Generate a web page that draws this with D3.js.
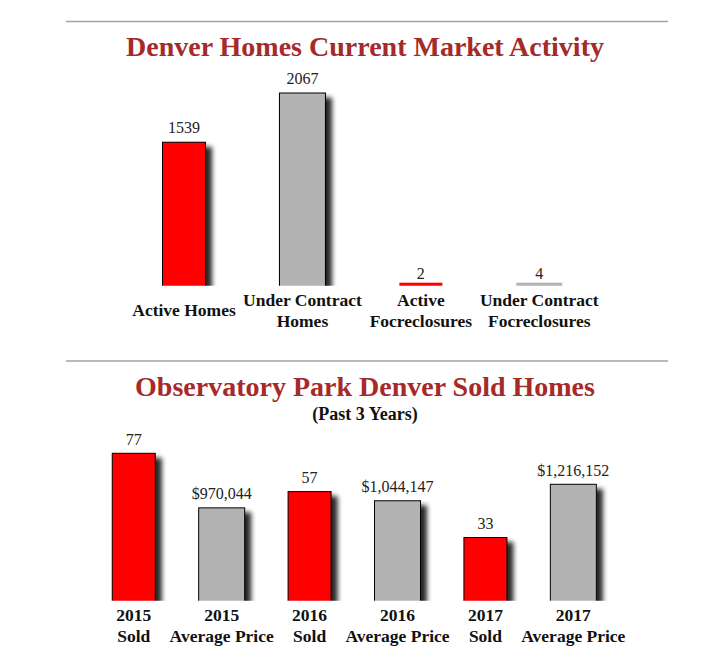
<!DOCTYPE html>
<html>
<head>
<meta charset="utf-8">
<script src="https://cdn.jsdelivr.net/npm/d3@7"></script>
<style>
  body { margin: 0; background: #fff; }
  text { font-family: "Liberation Serif", "Times New Roman", serif; }
</style>
</head>
<body>
<svg id="chart"></svg>
<script>
// top chart: current market activity
var marketCategories = [["Active Homes"], ["Under Contract", "Homes"], ["Active", "Focreclosures"], ["Under Contract", "Focreclosures"]];
var marketValues = [1539, 2067, 2, 4];
var marketLabels = ["1539", "2067", "2", "4"];
var marketKinds = ["red", "gray", "red", "gray"];

// bottom chart: sold homes, past 3 years
var soldCategories = [["2015", "Sold"], ["2015", "Average Price"], ["2016", "Sold"], ["2016", "Average Price"], ["2017", "Sold"], ["2017", "Average Price"]];
var soldValues = [77, 970044, 57, 1044147, 33, 1216152];
var soldLabels = ["77", "$970,044", "57", "$1,044,147", "33", "$1,216,152"];
var soldKinds = ["red", "gray", "red", "gray", "red", "gray"];

var colors = { red: "#ff0000", gray: "#b3b3b3" };
var barWidths = { red: 43, gray: 46 };
var width = 704, height = 666;
var svg;

document.addEventListener('DOMContentLoaded', function () {
  svg = d3.select('#chart').attr("width", width).attr("height", height);

  // shadow to the lower right of every bar
  var defs = svg.append("defs");
  var f = defs.append("filter").attr("id", "shadow")
    .attr("x", "-20%").attr("y", "-20%").attr("width", "160%").attr("height", "140%");
  f.append("feGaussianBlur").attr("in", "SourceAlpha").attr("stdDeviation", 2.5).attr("result", "blur");
  f.append("feOffset").attr("in", "blur").attr("dx", 6).attr("dy", 5).attr("result", "off");
  f.append("feComponentTransfer").attr("in", "off").attr("result", "dark")
    .append("feFuncA").attr("type", "linear").attr("slope", 0.85);
  var m = f.append("feMerge");
  m.append("feMergeNode").attr("in", "dark");
  m.append("feMergeNode").attr("in", "SourceGraphic");

  drawRule(21.5);
  drawTitle("Denver Homes Current Market Activity", 56);
  drawBars({
    id: "market", categories: marketCategories, values: marketValues, labels: marketLabels, kinds: marketKinds,
    x0: 124.8, x1: 598.5, base: 285.7, top: 93, max: [2067, 2067], labelGap: 9.5
  });

  drawRule(361);
  drawTitle("Observatory Park Denver Sold Homes", 395.7);
  svg.append("text")
    .attr("x", 365).attr("y", 420)
    .attr("text-anchor", "middle")
    .attr("font-size", "18px").attr("font-weight", "bold").attr("fill", "#111")
    .text("(Past 3 Years)");

  // counts and prices each get their own scale
  drawBars({
    id: "sold", categories: soldCategories, values: soldValues, labels: soldLabels, kinds: soldKinds,
    x0: 89.8, x1: 617.3, base: 600.7, max: [77, 1216152], tops: [453.3, 484.3], labelGap: 8.5
  });
});

function drawRule(y) {
  svg.append("line")
    .attr("x1", 66).attr("x2", 668)
    .attr("y1", y).attr("y2", y)
    .attr("stroke", "#a3a3a3").attr("stroke-width", 1.5);
}

function drawTitle(t, y) {
  svg.append("text")
    .attr("x", 365).attr("y", y)
    .attr("text-anchor", "middle")
    .attr("font-size", "28px").attr("font-weight", "bold")
    .attr("fill", "#a52a2a")
    .text(t);
}

function drawBars(o) {
  var idx = d3.range(o.values.length);
  var x = d3.scaleBand()
    .domain(idx)
    .range([o.x0, o.x1])
    .paddingInner(0.5)
    .paddingOuter(0.25);

  // red bars on one scale, gray bars on the other (top chart shares one)
  var tops = o.tops || [o.top, o.top];
  var yRed = d3.scaleLinear().domain([0, o.max[0]]).range([o.base, tops[0]]);
  var yGray = d3.scaleLinear().domain([0, o.max[1]]).range([o.base, tops[1]]);
  function y(i) { return o.kinds[i] == "red" ? yRed(o.values[i]) : yGray(o.values[i]); }
  function barTop(i) { return Math.min(y(i), o.base - 3); }
  function cx(i) { return x(i) + x.bandwidth() / 2; }
  // tiny bars sit closer to their label
  function gap(i) { return o.base - y(i) < 5 ? 4 : o.labelGap; }

  svg.select("defs").append("clipPath").attr("id", "clip-" + o.id)
    .append("rect").attr("x", 0).attr("y", 0).attr("width", width).attr("height", o.base);

  var g = svg.append("g").attr("clip-path", "url(#clip-" + o.id + ")");
  g.selectAll("rect")
    .data(idx)
    .enter().append("rect")
    .attr("x", function (i) { return cx(i) - barWidths[o.kinds[i]] / 2; })
    .attr("y", barTop)
    .attr("width", function (i) { return barWidths[o.kinds[i]]; })
    .attr("height", function (i) { return o.base - barTop(i) + 2; })
    .attr("fill", function (i) { return colors[o.kinds[i]]; })
    .attr("stroke", function (i) { return o.base - y(i) < 5 ? "none" : "#000"; })
    .attr("stroke-width", 1)
    .attr("filter", "url(#shadow)");

  // value labels above bars
  svg.append("g").selectAll("text")
    .data(idx)
    .enter().append("text")
    .attr("x", cx)
    .attr("y", function (i) { return barTop(i) - gap(i); })
    .attr("text-anchor", "middle")
    .attr("font-size", "16px")
    .attr("fill", "#222")
    .text(function (i) { return o.labels[i]; });

  // category labels, one or two lines
  var cat = svg.append("g").selectAll("text")
    .data(idx)
    .enter().append("text")
    .attr("x", cx)
    .attr("y", function (i) { return o.categories[i].length == 1 ? o.base + 30.3 : o.base + 20.3; })
    .attr("text-anchor", "middle")
    .attr("font-size", "17.5px")
    .attr("font-weight", "bold")
    .attr("fill", "#111");
  cat.each(function (i) {
    var t = d3.select(this);
    o.categories[i].forEach(function (line, k) {
      t.append("tspan").attr("x", cx(i)).attr("dy", k == 0 ? 0 : 20.7).text(line);
    });
  });
}
</script>
</body>
</html>
